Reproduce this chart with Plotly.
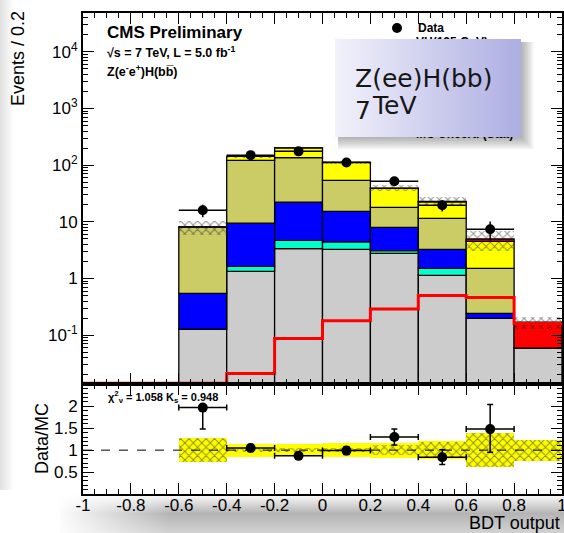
import plotly.graph_objects as go

W, H = 564, 533

# ---------------- data ----------------
bin_centers = [-0.5, -0.3, -0.1, 0.1, 0.3, 0.5, 0.7, 0.9]
bin_width = 0.2

mc_zz    = [0.126, 1.33, 3.36, 3.27, 2.78, 1.13, 0.197, 0.058]   # grey
mc_cyan  = [0.0,   0.31, 1.35, 1.15, 0.32, 0.38, 0.0,   0.0]     # aquamarine
mc_blue  = [0.42,  7.8,  17.4, 10.9, 4.9,  1.76, 0.045, 0.0]     # blue
mc_olive = [7.5,   112,  114,  38.7, 10.0, 8.2,  1.27,  0.0]     # khaki
mc_yel   = [0.1,   21,   65,   58,   21,   11,   3.0,   0.0]     # yellow
mc_vh    = [0.002, 0.02, 0.09, 0.18, 0.29, 0.5,  0.46,  0.11]    # red (signal, stacked)

data_counts = [16, 150, 175, 111, 52, 19.6, 7.4, None]
data_err    = [4.0, 12.2, 13.2, 10.5, 7.2, 4.4, 2.7, None]

stat_unc_rel = [0.27, 0.05, 0.04, 0.05, 0.12, 0.18, 0.39, 0.24]
syst_unc_rel = [0.27, 0.15, 0.14, 0.16, 0.17, 0.20, 0.39, 0.24]

ratio_vals     = [1.97, 1.05, 0.87, 0.99, 1.30, 0.84, 1.48, None]
ratio_err_up   = [0.0,  0.08, 0.07, 0.09, 0.18, 0.17, 0.56, None]
ratio_err_down = [0.49, 0.08, 0.07, 0.09, 0.18, 0.17, 0.53, None]

signal_edges = [-1.0, -0.8, -0.6, -0.4, -0.2, 0.0, 0.2, 0.4, 0.6, 0.8, 1.0]
signal_line  = [0.0142, 0.0142, 0.0142, 0.021, 0.087, 0.18, 0.29, 0.5, 0.46, 0.16]

x_tickvals = [-1, -0.8, -0.6, -0.4, -0.2, 0, 0.2, 0.4, 0.6, 0.8, 1]
x_ticktext = ["-1", "-0.8", "-0.6", "-0.4", "-0.2", "0", "0.2", "0.4", "0.6", "0.8", "1"]
y_tickvals = [0.1, 1, 10, 100, 1000, 10000]
y_ticktext = ["10<sup>-1</sup>", "1", "10", "10<sup>2</sup>", "10<sup>3</sup>", "10<sup>4</sup>"]
r_tickvals = [0.5, 1, 1.5, 2]
r_ticktext = ["0.5", "1", "1.5", "2"]

# ---------------- helpers (window pixel -> paper) ----------------
def px(x):
    return x / W

def py(y):
    return 1 - y / H

FONT = "Liberation Sans, Arial, sans-serif"
fig = go.Figure()

def rect_trace(x0, x1, y0, y1, xa, ya, **kw):
    return go.Scatter(x=[x0, x1, x1, x0, x0], y=[y0, y0, y1, y1, y0], mode="lines",
                      fill="toself", line=dict(width=0), hoverinfo="skip",
                      showlegend=False, xaxis=xa, yaxis=ya, **kw)

# ---------------- background decorations (subplot x/y, pixels) ----------------
fig.add_trace(rect_trace(60, 564, 494, 533, "x", "y",
                         fillgradient=dict(type="vertical", start=494, stop=533,
                                           colorscale=[[0, "#ffffff"], [0.5, "#b4b4b4"], [1, "#d2d2d2"]])))
fig.add_trace(rect_trace(55, 170, 494, 533, "x", "y",
                         fillgradient=dict(type="horizontal", start=55, stop=170,
                                           colorscale=[[0, "rgba(255,255,255,1)"], [1, "rgba(255,255,255,0)"]])))
fig.add_trace(rect_trace(0, 14, 0, 490, "x", "y",
                         fillgradient=dict(type="horizontal", start=0, stop=14,
                                           colorscale=[[0, "#e0e0e0"], [1, "#ffffff"]])))

# ---------------- main stacked histogram (x2/y2) ----------------
floor = 1e-3
components = [
    (mc_zz, "#cccccc"),
    (mc_cyan, "#00ffcc"),
    (mc_blue, "#0000ff"),
    (mc_olive, "#cccc66"),
    (mc_yel, "#ffff00"),
    (mc_vh, "#ff0000"),
]
cum = [floor] * len(bin_centers)
for vals, col in components:
    fig.add_trace(go.Bar(x=bin_centers, y=vals, base=cum[:], width=bin_width,
                         marker=dict(color=col, line=dict(color="black", width=1.3)),
                         xaxis="x2", yaxis="y2", showlegend=False, hoverinfo="skip"))
    cum = [c + v for c, v in zip(cum, vals)]
mc_total = cum

# MC stat uncertainty hatch
fig.add_trace(go.Bar(x=bin_centers,
                     y=[2 * t * u for t, u in zip(mc_total, stat_unc_rel)],
                     base=[t * (1 - u) for t, u in zip(mc_total, stat_unc_rel)],
                     width=bin_width,
                     marker=dict(color="rgba(0,0,0,0)", line=dict(width=0),
                                 pattern=dict(shape="x", fgcolor="#222222", size=6,
                                              solidity=0.3, fillmode="overlay")),
                     xaxis="x2", yaxis="y2", showlegend=False, hoverinfo="skip"))

# signal line
fig.add_trace(go.Scatter(x=signal_edges, y=signal_line + [signal_line[-1]],
                         mode="lines", line=dict(color="#ff0000", width=3, shape="hv"),
                         xaxis="x2", yaxis="y2", showlegend=False, hoverinfo="skip"))

# data
fig.add_trace(go.Scatter(x=bin_centers, y=data_counts, mode="markers",
                         marker=dict(color="black", size=10),
                         error_y=dict(type="data", array=data_err, color="black", thickness=1.5, width=0),
                         error_x=dict(type="constant", value=bin_width / 2, color="black", thickness=1.5, width=0),
                         xaxis="x2", yaxis="y2", showlegend=False, hoverinfo="skip"))

# ---------------- ratio panel (x3/y3) ----------------
fig.add_trace(go.Scatter(x=[-1, 1], y=[1, 1], mode="lines",
                         line=dict(color="black", width=1, dash="dash"),
                         xaxis="x3", yaxis="y3", showlegend=False, hoverinfo="skip"))
fig.add_trace(go.Bar(x=bin_centers, y=[2 * u for u in syst_unc_rel],
                     base=[1 - u for u in syst_unc_rel], width=bin_width,
                     marker=dict(color="#ffff00", line=dict(width=0)),
                     xaxis="x3", yaxis="y3", showlegend=False, hoverinfo="skip"))
fig.add_trace(go.Bar(x=bin_centers, y=[2 * u for u in stat_unc_rel],
                     base=[1 - u for u in stat_unc_rel], width=bin_width,
                     marker=dict(color="rgba(0,0,0,0)", line=dict(width=0),
                                 pattern=dict(shape="x", fgcolor="#222222", size=6,
                                              solidity=0.3, fillmode="overlay")),
                     xaxis="x3", yaxis="y3", showlegend=False, hoverinfo="skip"))
fig.add_trace(go.Scatter(x=bin_centers, y=ratio_vals, mode="markers",
                         marker=dict(color="black", size=10),
                         error_y=dict(type="data", array=ratio_err_up, arrayminus=ratio_err_down,
                                      symmetric=False, color="black", thickness=1.5, width=3),
                         error_x=dict(type="constant", value=bin_width / 2, color="black",
                                      thickness=1.5, width=3),
                         xaxis="x3", yaxis="y3", showlegend=False, hoverinfo="skip"))

# ---------------- overlay (x4/y4, pixels): legend fragments + box ----------------
fig.add_trace(go.Scatter(x=[397], y=[28], mode="markers", marker=dict(color="black", size=10),
                         xaxis="x4", yaxis="y4", showlegend=False, hoverinfo="skip"))
fig.add_trace(go.Scatter(x=[416, 416], y=[43, 135], mode="text",
                         text=["VH(125 GeV)", "MC Uncert. (Stat)"], textposition="middle right",
                         textfont=dict(family=FONT, size=12, color="black", weight="bold"),
                         xaxis="x4", yaxis="y4", showlegend=False, hoverinfo="skip"))
for i in range(1, 10):
    fig.add_trace(rect_trace(338, 521 + i * 1.4, 42, 137 + i * 1.4, "x4", "y4",
                             fillcolor="rgba(0,0,0,0.035)"))
fig.add_trace(rect_trace(335, 521, 39, 137, "x4", "y4",
                         fillgradient=dict(type="horizontal", start=335, stop=521,
                                           colorscale=[[0, "#f2f2fb"], [1, "#adaee2"]])))

# ---------------- axes ----------------
ax_common = dict(showline=True, linecolor="black", linewidth=2, mirror="allticks",
                 ticks="inside", tickcolor="black", tickwidth=1, showgrid=False,
                 zeroline=False, automargin=False,
                 tickfont=dict(family=FONT, size=17, color="black"))

pix_x = dict(domain=[0, 1], range=[0, W], visible=False, fixedrange=True, automargin=False)
pix_y = dict(domain=[0, 1], range=[H, 0], visible=False, fixedrange=True, automargin=False)

xdom = [px(83), px(562)]
fig.update_layout(
    template="none",
    width=W, height=H, autosize=False,
    margin=dict(l=0, r=0, t=0, b=0, pad=0, autoexpand=False),
    paper_bgcolor="white", plot_bgcolor="rgba(0,0,0,0)",
    barmode="overlay", bargap=0,
    showlegend=False,
    xaxis=dict(**pix_x),
    yaxis=dict(**pix_y),
    xaxis2=dict(domain=xdom, range=[-1, 1], anchor="y2", showticklabels=False,
                tickmode="array", tickvals=x_tickvals, ticklen=11,
                minor=dict(dtick=0.05, tick0=-1, ticks="inside", ticklen=5, tickcolor="black"),
                **ax_common),
    yaxis2=dict(domain=[py(383.5), py(13)], type="log", range=[-1.853, 4.684], anchor="x2",
                tickmode="array", tickvals=y_tickvals, ticktext=y_ticktext, ticklen=11,
                minor=dict(tickmode="array",
                           tickvals=[k * 10 ** e for e in range(-2, 5) for k in range(2, 10)],
                           ticks="inside", ticklen=5, tickcolor="black"),
                **ax_common),
    xaxis3=dict(domain=xdom, range=[-1, 1], anchor="y3",
                tickmode="array", tickvals=x_tickvals, ticktext=x_ticktext, ticklen=11,
                ticklabelstandoff=-5, ticklabeloverflow="allow",
                minor=dict(dtick=0.05, tick0=-1, ticks="inside", ticklen=5, tickcolor="black"),
                **ax_common),
    yaxis3=dict(domain=[py(494), py(383.5)], range=[0, 2.52], anchor="x3",
                tickmode="array", tickvals=r_tickvals, ticktext=r_ticktext, ticklen=11,
                minor=dict(dtick=0.1, tick0=0, ticks="inside", ticklen=5, tickcolor="black"),
                **ax_common),
    xaxis4=dict(anchor="y4", **pix_x),
    yaxis4=dict(anchor="x4", **pix_y),
)

# ---------------- annotations ----------------
ann = []
def A(text, x, y, size, xanchor="left", yanchor="middle", bold=False, angle=0,
      family=FONT, color="black"):
    ann.append(dict(text=text, x=px(x), y=py(y), xref="paper", yref="paper",
                    xanchor=xanchor, yanchor=yanchor, showarrow=False, textangle=angle,
                    font=dict(family=family, size=size, color=color,
                              weight="bold" if bold else "normal")))

A("CMS Preliminary", 105, 33, 17, bold=True)
A("\u221as = 7 TeV, L = 5.0 fb<sup>-1</sup>", 105, 52, 12.5, bold=True)
A("Z(e<sup>-</sup>e<sup>+</sup>)H(bb\u0305)", 105, 71, 12.5, bold=True)
A("Data", 416, 28, 12, bold=True)
A("\u03c7<sup>2</sup><sub>\u03bd</sub> = 1.058 K<sub>s</sub> = 0.948", 106, 397, 11, bold=True)
A("Events / 0.2", 18, 59, 18, xanchor="center", angle=-90)
A("Data/MC", 42, 439, 18, xanchor="center", angle=-90)
A("BDT output", 562, 523, 18, xanchor="right")
A("Z(ee)H(bb)", 353, 78, 25, family="DejaVu Sans", color="#161616")
A("7", 353, 110, 25, family="DejaVu Sans", color="#161616")
A("TeV", 370, 105, 25, family="DejaVu Sans", color="#161616")
fig.update_layout(annotations=ann)

# remove the browser's default page margin so the 564x533 figure fills the window
fig.write_html("out.html",
               config={"displayModeBar": False, "staticPlot": True},
               post_script="document.body.style.margin='0px';"
                           "document.body.style.overflow='hidden';")
